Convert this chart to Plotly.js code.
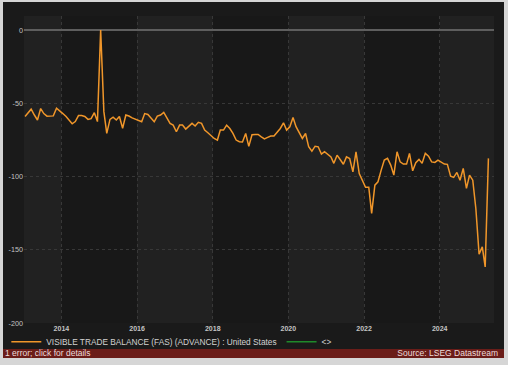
<!DOCTYPE html>
<html><head><meta charset="utf-8">
<script src="https://cdn.plot.ly/plotly-3.0.1.min.js"></script>
<style>
html,body{margin:0;padding:0;background:#d6d6d6;width:508px;height:365px;overflow:hidden}
#wrap{position:absolute;left:3px;top:2px;width:501px;height:355px;background:#1a1a1a}
#chart{position:absolute;left:0;top:0;width:501px;height:347px}
#foot{position:absolute;left:0;top:347px;width:501px;height:9px;background:#6b1d19;z-index:5;
  font-family:"Liberation Sans",Arial,sans-serif;font-size:8.5px;color:#ecdcdc;line-height:9px}
#foot .l{position:absolute;left:2px;top:0}
#foot .r{position:absolute;right:6px;top:0}
</style></head>
<body>
<div id="wrap"><div id="chart"></div>
<div id="foot"><span class="l">1 error; click for details</span><span class="r">Source: LSEG Datastream</span></div></div>
<script>
// Monthly series, Jan 2013 .. Apr 2025 (US$ bn)
var startYear = 2013;
var seriesName = "VISIBLE TRADE BALANCE (FAS) (ADVANCE) : United States";
var balance = [
 -59, -56, -54, -58, -61.4, -53.6, -57, -58.8, -58.8, -58.6, -53.4, -55.5,
 -57, -59, -61.5, -64, -62.5, -58.4, -58.4, -59, -61, -60.5, -56.4, -62.5,
 0, -55.7, -70.5, -61, -59.5, -61.4, -59, -67, -58, -58.7, -60, -61,
 -62, -62.6, -57, -57.6, -60, -62.6, -58.7, -58, -56.2, -60, -63.7, -64.9,
 -69.4, -64.9, -64.9, -67.6, -65.5, -63.7, -65.5, -63, -63.7, -68.3, -70.1, -72,
 -74, -75.1, -68.3, -68.3, -64.9, -67.2, -70.6, -75.1, -76.2, -76.4, -70.6, -79.4,
 -71.5, -71.3, -71.3, -72.9, -74.3, -73.3, -72.4, -72.4, -69.5, -67.2, -63.3, -68.3,
 -66, -59.7, -66, -70, -74, -70.6, -79.7, -82.7, -79.3, -79.7, -84.7, -83,
 -84.7, -86.6, -91, -85.4, -88.4, -91.6, -86.6, -87.7, -96.8, -83.1, -98, -102.5,
 -107.3, -107.3, -125.2, -105.9, -103.6, -95.6, -88.8, -87.6, -92.2, -99, -83.1, -90,
 -91.5, -91.5, -84.2, -96.1, -90.6, -88.3, -91, -84.2, -86.1, -90, -90.4, -88.8,
 -90.4, -91.5, -91.7, -99.7, -100.6, -97.2, -102.5, -94.5, -108.1, -99, -102.5, -122,
 -153, -148, -161.7, -87.6
];
var tickYears = ["2014","2016","2018","2020","2022","2024"];
var yTicks = [0, -50, -100, -150, -200];
var shadedFrom = ["2013-01-05","2016-01-01","2020-01-01","2024-01-01"];
var shadedTo   = ["2014-01-01","2018-01-01","2022-01-01","2025-06-08"];

var months = balance.map(function(v, i){
  var y = startYear + Math.floor(i/12), m = (i % 12) + 1;
  return y + "-" + (m < 10 ? "0" + m : m) + "-15";
});

var FONT = '"Liberation Sans",Arial,sans-serif';

var traces = [
  {x: months, y: balance, type: "scatter", mode: "lines", name: seriesName,
   line: {color: "#f0962a", width: 1.5}, hoverinfo: "x+y"},
  {x: [null], y: [null], type: "scatter", mode: "lines", name: "<>",
   line: {color: "#1f8a2a", width: 1.5}}
];

var shapes = shadedFrom.map(function(a, i){
  return {type: "rect", xref: "x", yref: "paper", x0: a, x1: shadedTo[i], y0: 0, y1: 1,
          fillcolor: "#212121", line: {width: 0}, layer: "below"};
});

var layout = {
  width: 501, height: 347,
  margin: {l: 21, r: 10, t: 14, b: 26.3, pad: 0, autoexpand: false},
  paper_bgcolor: "#1a1a1a", plot_bgcolor: "#181818",
  font: {family: FONT, color: "#c8c8c8", size: 8.3},
  showlegend: true,
  legend: {orientation: "h", x: -0.0376, xanchor: "left", y: -0.014, yanchor: "top",
           bgcolor: "rgba(0,0,0,0)", font: {family: FONT, size: 8.3, color: "#d2d2d2"},
           itemclick: false, itemdoubleclick: false},
  xaxis: {type: "date", range: ["2013-01-05","2025-06-08"],
          tickvals: tickYears.map(function(y){return y + "-01-01";}), ticktext: tickYears,
          tickfont: {family: FONT, size: 7, color: "#c4c4c4", weight: "bold"},
          showgrid: true, gridcolor: "#383838", griddash: "dot", gridwidth: 1,
          zeroline: false, showline: false, ticks: "", fixedrange: true},
  yaxis: {range: [-200, 9.6], tickvals: yTicks, ticktext: yTicks.map(String),
          tickfont: {family: FONT, size: 7.2, color: "#c4c4c4"},
          showgrid: true, gridcolor: "#383838", griddash: "dot", gridwidth: 1,
          zeroline: true, zerolinecolor: "#5e5e5e", zerolinewidth: 2,
          showline: false, ticks: "", fixedrange: true},
  shapes: shapes
};

Plotly.newPlot("chart", traces, layout, {displayModeBar: false});
</script>
</body></html>
